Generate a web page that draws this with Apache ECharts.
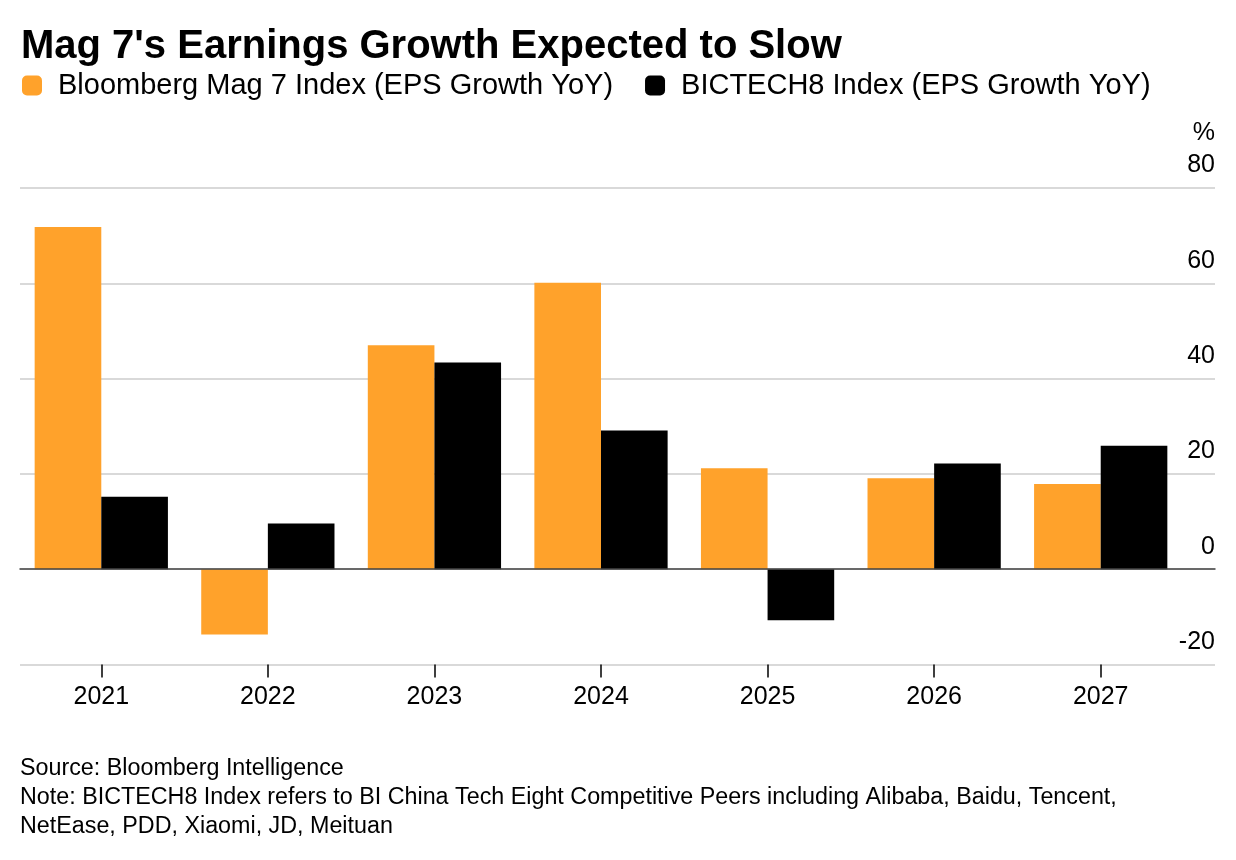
<!DOCTYPE html>
<html>
<head>
<meta charset="utf-8">
<style>
  html, body { margin: 0; padding: 0; background: #fff; }
  #chart { width: 1236px; height: 860px; }
</style>
<script src="https://cdn.jsdelivr.net/npm/echarts@6/dist/echarts.min.js"></script>
</head>
<body>
<div id="chart"></div>
<script>
var years = ['2021', '2022', '2023', '2024', '2025', '2026', '2027'];
var mag7Eps = [71.8, -13.7, 47.0, 60.1, 21.2, 19.1, 17.9];
var bictech8Eps = [15.2, 9.6, 43.4, 29.1, -10.7, 22.2, 25.9];
var seriesNames = ['Bloomberg Mag 7 Index (EPS Growth YoY)', 'BICTECH8 Index (EPS Growth YoY)'];
var yMin = -20, yMax = 80, yStep = 20;

var font = '"Liberation Sans", Arial, Helvetica, sans-serif';
var e = echarts.init(document.getElementById('chart'));

e.setOption({
    animation: false,
    backgroundColor: '#fff',
    textStyle: {fontFamily: font, color: '#000'},
    title: [
        {
            text: "Mag 7's Earnings Growth Expected to Slow",
            left: 21,
            top: 27,
            padding: 0,
            textStyle: {fontFamily: font, fontSize: 40, fontWeight: 'bold', color: '#000'}
        },
        {
            text: '%',
            right: 21,
            top: 121,
            padding: 0,
            textStyle: {fontFamily: font, fontSize: 25, fontWeight: 'normal', color: '#000'}
        },
        {
            text: 'Source: Bloomberg Intelligence\n' +
                'Note: BICTECH8 Index refers to BI China Tech Eight Competitive Peers including Alibaba, Baidu, Tencent,\n' +
                'NetEase, PDD, Xiaomi, JD, Meituan',
            left: 20,
            top: 754,
            padding: 0,
            textStyle: {fontFamily: font, fontSize: 23.3, fontWeight: 'normal', color: '#000', lineHeight: 29}
        }
    ],
    legend: {
        left: 22,
        top: 71,
        padding: 0,
        itemWidth: 20,
        itemHeight: 20,
        itemGap: 32,
        icon: 'roundRect',
        data: seriesNames,
        textStyle: {fontFamily: font, fontSize: 29, color: '#000', padding: [0, 0, 0, 11]}
    },
    grid: [
        {left: 20, right: 21, top: 188, bottom: 195.5, outerBoundsMode: 'none'},
        {left: 18, right: 52, top: 188, bottom: 195.5, outerBoundsMode: 'none'}
    ],
    xAxis: [
        {
            gridIndex: 0,
            type: 'value',
            min: 0,
            max: 1,
            z: 10,
            axisLine: {show: true, onZero: true, lineStyle: {color: '#444', width: 1.5}},
            axisTick: {show: false},
            axisLabel: {show: false},
            splitLine: {show: false}
        },
        {
            gridIndex: 1,
            type: 'category',
            data: years,
            axisLine: {show: false, onZero: false},
            axisTick: {show: true, alignWithLabel: true, length: 13, lineStyle: {color: '#000', width: 1.5}},
            axisLabel: {margin: 20, fontSize: 25, color: '#000', fontFamily: font},
            splitLine: {show: false}
        }
    ],
    yAxis: [
        {
            gridIndex: 0,
            type: 'value',
            position: 'right',
            min: yMin,
            max: yMax,
            interval: yStep,
            axisLine: {show: false},
            axisTick: {show: false},
            axisLabel: {
                inside: true,
                margin: 0,
                fontSize: 25,
                color: '#000',
                fontFamily: font,
                verticalAlign: 'bottom',
                padding: [0, 0, 10, 0]
            },
            splitLine: {show: true, lineStyle: {color: '#cccccc', width: 1.5}}
        },
        {
            gridIndex: 1,
            type: 'value',
            min: yMin,
            max: yMax,
            interval: yStep,
            show: false
        }
    ],
    series: [
        {
            name: seriesNames[0],
            type: 'bar',
            xAxisIndex: 1,
            yAxisIndex: 1,
            data: mag7Eps,
            barGap: '0%',
            barCategoryGap: '20%',
            itemStyle: {color: '#ffa22b'}
        },
        {
            name: seriesNames[1],
            type: 'bar',
            xAxisIndex: 1,
            yAxisIndex: 1,
            data: bictech8Eps,
            barGap: '0%',
            barCategoryGap: '20%',
            itemStyle: {color: '#000000'}
        }
    ]
});
</script>
</body>
</html>
